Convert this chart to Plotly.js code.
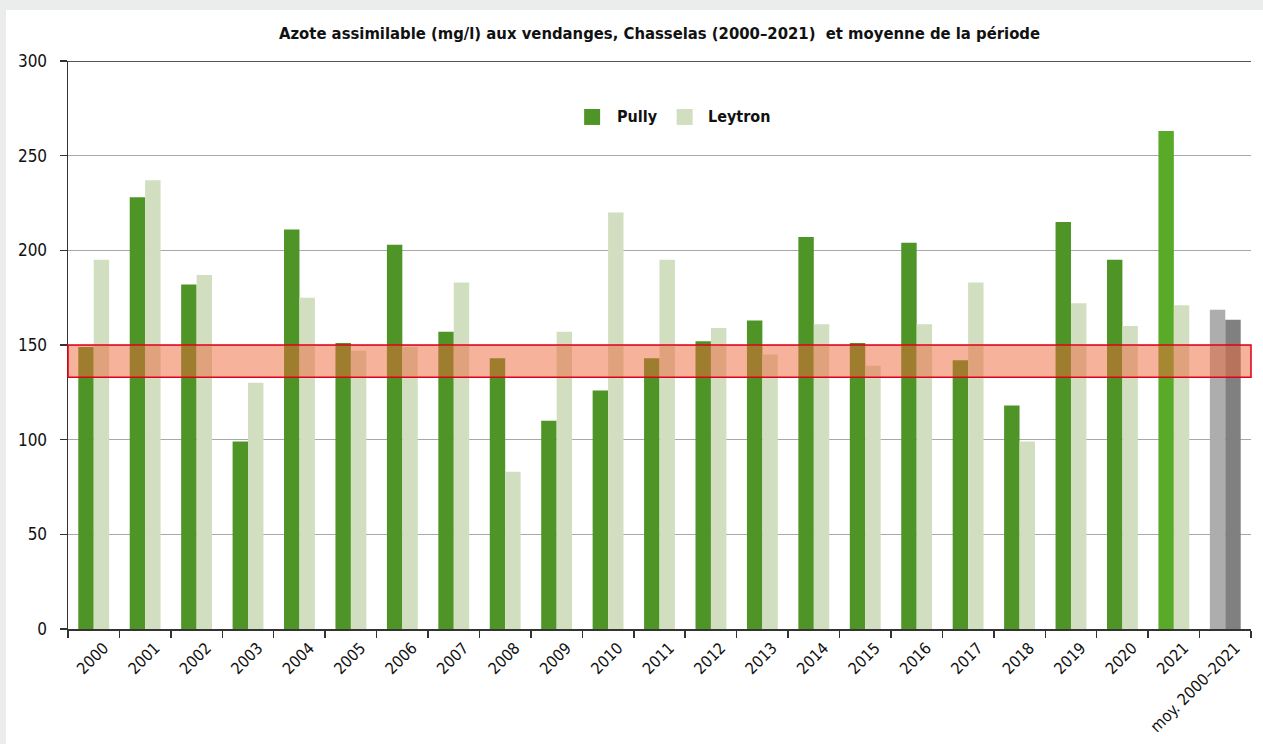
<!DOCTYPE html>
<html>
<head>
<meta charset="utf-8">
<script src="https://cdn.plot.ly/plotly-3.0.1.min.js"></script>
<style>
  html, body { margin: 0; padding: 0; background: #ebedec; }
  #chart { position: absolute; left: 6px; top: 10px; width: 1257px; height: 734px; background: #fff; }
</style>
</head>
<body>
<div id="chart"></div>
<script>
// Vintages plus the period average
const categories = ['2000','2001','2002','2003','2004','2005','2006','2007','2008','2009','2010',
  '2011','2012','2013','2014','2015','2016','2017','2018','2019','2020','2021','moy. 2000–2021'];

// Assimilable nitrogen at harvest (mg/l)
const pully   = [149,228,182,99,211,151,203,157,143,110,126,143,152,163,207,151,204,142,118,215,195,263,168.6];
const leytron = [195,237,187,130,175,147,149,183,83,157,220,195,159,145,161,139,161,183,99,172,160,171,163.3];

// Deficiency range highlighted across the chart (mg/l)
const bandLow = 133;
const bandHigh = 150;

const yTicks = [0, 50, 100, 150, 200, 250, 300];

const FONT = '"Liberation Sans Narrow", "DejaVu Sans Condensed", "Liberation Sans", sans-serif';

const GREEN = '#4e9426', GREEN_LAST = '#5aaa2a', PALE = '#d1dfc0';
const pullyColors = pully.map((v, i) =>
  i === pully.length - 1 ? '#adadad' : (i === pully.length - 2 ? GREEN_LAST : GREEN));
const leytronColors = leytron.map((v, i) => i === leytron.length - 1 ? '#808080' : PALE);

const traces = [
  { type: 'bar', name: 'Pully', x: categories, y: pully,
    marker: { color: pullyColors, line: { width: 0 } }, hoverinfo: 'x+y+name' },
  { type: 'bar', name: 'Leytron', x: categories, y: leytron,
    marker: { color: leytronColors, line: { width: 0 } }, hoverinfo: 'x+y+name' }
];

// Hand-built legend (larger swatches than Plotly's default)
const legendItems = [
  { label: 'Pully',   color: GREEN, x0: 0.4363, x1: 0.4498, tx: 0.4620 },
  { label: 'Leytron', color: PALE,  x0: 0.5145, x1: 0.5280, tx: 0.5390 }
];

const shapes = [
  { type: 'rect', xref: 'paper', yref: 'y', x0: 0, x1: 1, y0: bandLow, y1: bandHigh,
    fillcolor: 'rgba(239,101,55,0.5)', line: { color: '#e2001a', width: 1.5 }, layer: 'above' },
  { type: 'line', xref: 'paper', yref: 'y', x0: 0, x1: 1, y0: 300, y1: 300,
    line: { color: '#555', width: 2 }, layer: 'above' }
];
const annotations = [];
legendItems.forEach(it => {
  shapes.push({ type: 'rect', xref: 'paper', yref: 'paper', x0: it.x0, x1: it.x1,
    y0: 0.8874, y1: 0.9155, fillcolor: it.color, line: { width: 0 } });
  annotations.push({ xref: 'paper', yref: 'paper', x: it.tx, y: 0.9015, xanchor: 'left',
    yanchor: 'middle', showarrow: false, text: '<b>' + it.label + '</b>',
    font: { family: FONT, size: 16, color: '#111' } });
});

const layout = {
  width: 1257, height: 734,
  margin: { l: 62, r: 12, t: 51, b: 115, pad: 0 },
  paper_bgcolor: '#ffffff', plot_bgcolor: '#ffffff',
  barmode: 'group', bargap: 0.4, bargroupgap: 0,
  showlegend: false,
  title: { text: '<b>Azote assimilable (mg/l) aux vendanges, Chasselas (2000–2021)\u00a0 et moyenne de la période</b>',
    x: 0.5, xref: 'paper', y: 0.969, yref: 'container', yanchor: 'middle',
    font: { family: FONT, size: 16.5, color: '#111' } },
  xaxis: { type: 'category', showline: true, linecolor: '#333', linewidth: 1.5,
    ticks: 'outside', ticklen: 7, tickcolor: '#333', tickwidth: 1.5, tickson: 'boundaries',
    tickangle: -45, ticklabelshift: 10, ticklabelstandoff: 2,
    tickfont: { family: FONT, size: 16, color: '#111' }, showgrid: false },
  yaxis: { range: [0, 300], tickvals: yTicks, showline: true, linecolor: '#333', linewidth: 1.5,
    ticks: 'outside', ticklen: 7, tickcolor: '#333', tickwidth: 1.5,
    gridcolor: '#a8a8a8', gridwidth: 1, zeroline: false, ticklabelstandoff: 9,
    tickfont: { family: FONT, size: 17, color: '#111' } },
  shapes: shapes,
  annotations: annotations
};

Plotly.newPlot('chart', traces, layout, { displayModeBar: false, staticPlot: true });
</script>
</body>
</html>
